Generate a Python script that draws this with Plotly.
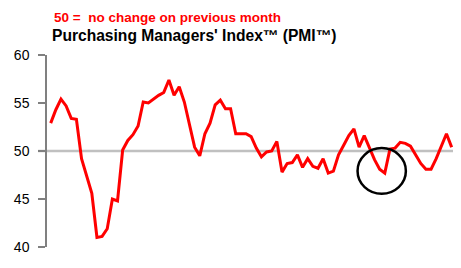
import plotly.graph_objects as go

# Monthly PMI readings
pmi_values = [
    52.9, 54.3, 55.4, 54.7, 53.4, 53.3, 49.2, 47.5, 45.6, 41.0,
    41.1, 41.9, 45.0, 44.8, 50.1, 51.1, 51.7, 52.6, 55.1, 55.0,
    55.4, 55.8, 56.1, 57.4, 55.8, 56.7, 55.1, 52.7, 50.4, 49.5,
    51.8, 52.9, 54.8, 55.3, 54.4, 54.4, 51.8, 51.8, 51.8, 51.5,
    50.3, 49.4, 49.9, 50.0, 51.0, 47.8, 48.7, 48.8, 49.6, 48.3,
    49.2, 48.4, 48.2, 49.2, 47.7, 47.9, 49.6, 50.6, 51.6, 52.3,
    50.4, 51.6, 50.4, 49.1, 48.1, 47.7, 50.2, 50.3, 50.9, 50.8,
    50.5, 49.6, 48.7, 48.1, 48.1, 49.2, 50.6, 51.8, 50.4,
]
months = list(range(len(pmi_values)))
y_ticks = [40, 45, 50, 55, 60]
no_change_level = 50
subtitle = "50 =  no change on previous month"
title = "Purchasing Managers' Index\u2122 (PMI\u2122)"

fig = go.Figure()
fig.add_trace(go.Scatter(
    x=months, y=pmi_values, mode="lines",
    line=dict(color="#ff0000", width=3), showlegend=False, hoverinfo="skip",
))

# 50 reference line
fig.add_shape(type="line", xref="paper", yref="y",
              x0=-0.022, x1=1.0, y0=no_change_level, y1=no_change_level,
              line=dict(color="#c0c0c0", width=2.5), layer="below")

# circle highlighting the recent dip
dip_idx = 65
fig.add_shape(type="circle", xref="x", yref="y",
              x0=dip_idx - 5.3, x1=dip_idx + 4.1,
              y0=45.55, y1=50.3,
              line=dict(color="#000000", width=2.5))

fig.add_annotation(text=subtitle, xref="paper", yref="paper",
                   x=0.0123, y=1.193, xanchor="left", yanchor="middle",
                   showarrow=False,
                   font=dict(family="Liberation Sans, Arial", size=13.5,
                             color="#ff0000", weight="bold"))
fig.add_annotation(text=title, xref="paper", yref="paper",
                   x=0.007, y=1.1, xanchor="left", yanchor="middle",
                   showarrow=False,
                   font=dict(family="Liberation Sans, Arial", size=15.6,
                             color="#000000", weight="bold"))

fig.update_xaxes(range=[-0.72, 78.27], visible=False, showgrid=False,
                 zeroline=False)
fig.update_yaxes(range=[40, 60], tickvals=y_ticks, ticks="outside",
                 ticklen=7, tickcolor="#808080", tickwidth=1.5,
                 showline=True, linecolor="#808080", linewidth=1.5,
                 showgrid=False, zeroline=False,
                 tickfont=dict(family="Liberation Sans, Arial", size=14,
                               color="#000000"),
                 ticklabelstandoff=6)

fig.update_layout(
    width=461, height=268,
    margin=dict(l=47, r=8, t=55, b=21),
    paper_bgcolor="white", plot_bgcolor="white",
    font=dict(family="Liberation Sans, Arial"),
)

fig.write_html("out.html")
